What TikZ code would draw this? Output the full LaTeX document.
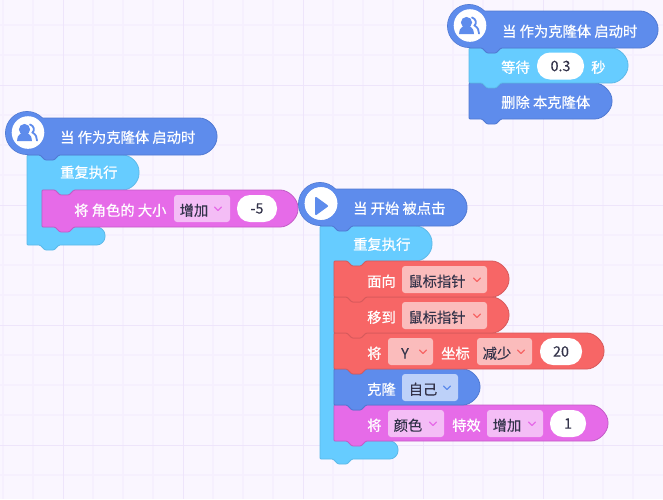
\documentclass[tikz,border=0pt]{standalone}
\usepackage{fontspec}
\setmainfont{Noto Sans CJK SC}
\newfontfamily\wfont[FakeBold=0.6]{Noto Sans CJK SC}
\newfontfamily\dfont[FakeBold=0.2]{Noto Sans CJK SC}
\definecolor{bgc}{HTML}{FAF6FF}
\definecolor{gridmin}{HTML}{F6F0FE}
\definecolor{gridmaj}{HTML}{EEE5FB}
\definecolor{hatblue}{HTML}{5E8CEC}
\definecolor{hatline}{HTML}{5079D2}
\definecolor{cyanb}{HTML}{66CCFF}
\definecolor{cyanl}{HTML}{5DB9E8}
\definecolor{pinkb}{HTML}{E66BE8}
\definecolor{pinkl}{HTML}{C25CC6}
\definecolor{redb}{HTML}{F76666}
\definecolor{redl}{HTML}{D65A5C}
\definecolor{redt}{HTML}{FBBCBC}
\definecolor{bluet}{HTML}{BDD1F9}
\definecolor{pinkt}{HTML}{F4BDF6}
\definecolor{darktext}{HTML}{33334A}
\tikzset{
  lab/.style={anchor=base west,inner sep=0pt,yshift=-0.7pt,text=white,font=\wfont\fontsize{14.3}{14.3}\selectfont},
  dtx/.style={anchor=base,inner sep=0pt,yshift=-0.7pt,text=darktext,font=\dfont\fontsize{14.3}{14.3}\selectfont},
  pillbox/.style={fill=white,rounded corners=13pt,inner sep=0pt,text=darktext,minimum height=27pt,font=\dfont\fontsize{14.3}{14.3}\selectfont},
  chev/.style={line width=1.3pt,line cap=round,line join=round},
  outl/.style={line width=0.8pt,rounded corners=1pt}
}
% stack block: fill,line,x,ytop,xright,height
\newcommand\blk[6]{%
  \draw[outl,fill=#1,draw=#2]
    (#3,#4) -- ({#3+13},#4) -- ({#3+18},{#4+5}) -- ({#3+27},{#4+5}) -- ({#3+32},#4)
    -- ({#5-#6/2},#4) .. controls ({#5-#6/4},#4) and (#5,{#4+#6/4}) .. (#5,{#4+#6/2})
    .. controls (#5,{#4+3*#6/4}) and ({#5-#6/4},{#4+#6}) .. ({#5-#6/2},{#4+#6})
    -- ({#3+32},{#4+#6}) -- ({#3+27},{#4+#6+5}) -- ({#3+18},{#4+#6+5}) -- ({#3+13},{#4+#6}) -- (#3,{#4+#6}) -- cycle;}
% loop: x,ytop,headright,headbottom,armx,foottop,footbottom,footright
\newcommand\loopblk[8]{%
  \draw[outl,fill=cyanb,draw=cyanl]
    (#1,#2) -- ({#3-17.5},#2) .. controls ({#3-8},#2) and (#3,{#2+8}) .. (#3,{#2+17.5})
    .. controls (#3,{#4-8}) and ({#3-8},#4) .. ({#3-17.5},#4)
    -- ({#5+32},#4) -- ({#5+27},{#4+5}) -- ({#5+18},{#4+5}) -- ({#5+13},#4) -- (#5,#4) -- (#5,#6)
    -- ({#8-9},#6) .. controls ({#8-4},#6) and (#8,{#6+4}) .. (#8,{#6+9})
    .. controls (#8,{#7-4}) and ({#8-4},#7) .. ({#8-9},#7)
    -- ({#1+32},#7) -- ({#1+27},{#7+5}) -- ({#1+18},{#7+5}) -- ({#1+13},#7) -- (#1,#7) -- cycle;}
% hat: x,ytop,xright
\newcommand\hatblk[3]{%
  \draw[line width=0.8pt,fill=hatblue,draw=hatline] (#1,{#2+15}) circle[radius=21.5];
  \draw[outl,fill=hatblue,draw=hatline]
    (#1,#2) -- ({#3-18.5},#2) .. controls ({#3-9},#2) and (#3,{#2+9}) .. (#3,{#2+18.5})
    .. controls (#3,{#2+28}) and ({#3-9},{#2+37}) .. ({#3-18.5},{#2+37})
    -- ({#1+32},{#2+37}) -- ({#1+27},{#2+42}) -- ({#1+18},{#2+42}) -- ({#1+13},{#2+37}) -- (#1,{#2+37}) -- cycle;
  \fill[hatblue] (#1,{#2+15}) circle[radius=21.1];
  \fill[white] ({#1+1},{#2+14.5}) circle[radius=16.3];}
\newcommand\usericon[2]{%
  \begin{scope}[shift={(#1,#2)}]
    \fill[hatblue] (-3.5,-3) circle[radius=5.6];
    \fill[hatblue] (-11,8.5) .. controls (-11,2) and (-7,0.5) .. (-3.5,0.5)
       .. controls (0,0.5) and (4,2) .. (4,8.5) -- cycle;
    \draw[hatblue,line width=1.8pt,line cap=round] (2,-8) .. controls (6,-7) and (7,-2) .. (4.5,0)
       .. controls (8,2) and (9,5) .. (9,8);
  \end{scope}}
% dropdown: x1,ytop,x2,tint,chevcolour,chevx
\newcommand\ddbox[6]{%
  \fill[#4,rounded corners=3pt] (#1,#2) rectangle (#3,{#2+27});
  \draw[chev,#5] ({#6-3.5},{#2+12}) -- (#6,{#2+15.5}) -- ({#6+3.5},{#2+12});}
\begin{document}
\begin{tikzpicture}[x=1pt,y=-1pt]
\useasboundingbox (0,0) rectangle (663,499);
\fill[bgc] (0,0) rectangle (663,499);
% grid
\foreach \gx in {3,33,93,123,153,213,243,273,333,363,393,453,483,513,573,603,633}
  \draw[gridmin,line width=1.2pt] (\gx,0) -- (\gx,499);
\foreach \gy in {25,55,115,145,175,235,265,295,355,385,415,475}
  \draw[gridmin,line width=1.2pt] (0,\gy) -- (663,\gy);
\foreach \gx in {63,183,303,423,543}
  \draw[gridmaj,line width=1pt] (\gx,0) -- (\gx,499);
\foreach \gy in {85,205,325,445}
  \draw[gridmaj,line width=1pt] (0,\gy) -- (663,\gy);

% ---- top right stack
\blk{hatblue}{hatline}{469}{83}{612}{36}
\blk{cyanb}{cyanl}{469}{48}{628}{35}
\hatblk{469}{11}{658}
\usericon{470}{25.5}
\node[lab] (tr1) at (502,36) {当 作为克隆体 启动时};
\node[lab] (tr2) at (501,72) {等待};
\node[pillbox,minimum width=47pt] (tr3) at (560.5,66) {0.3};
\node[lab] (tr4) at (591,72) {秒};
\node[lab] (tr5) at (501,107) {删除 本克隆体};

% ---- left stack
\loopblk{27}{155}{139}{190}{42}{227}{245}{105}
\blk{pinkb}{pinkl}{42}{190}{298}{37}
\hatblk{27}{118}{217}
\usericon{28}{132.5}
\node[lab] (l1) at (60,142) {当 作为克隆体 启动时};
\node[lab] (l2) at (60,177) {重复执行};
\node[lab] (l3) at (74,215) {将 角色的 大小};
\ddbox{174}{195}{230}{pinkt}{pinkb}{218}
\node[dtx] (l4) at (194,215) {增加};
\node[pillbox,minimum width=40pt] (l5) at (257,208.5) {-5};

% ---- right stack
\loopblk{320}{226}{432}{261}{334}{441}{459}{398}
\blk{pinkb}{pinkl}{334}{405}{608}{36}
\blk{hatblue}{hatline}{334}{369}{480}{36}
\blk{redb}{redl}{334}{333}{604}{36}
\blk{redb}{redl}{334}{297}{509}{36}
\blk{redb}{redl}{334}{261}{509}{36}
\hatblk{320}{189}{467}
\fill[white] (321,203.5) circle[radius=16.3];
\fill[hatblue,draw=hatblue,line width=2pt,line join=round] (316,198) -- (327,206) -- (316,214) -- cycle;
\node[lab] (r1) at (353,213) {当 开始 被点击};
\node[lab] (r2) at (353,249) {重复执行};
\node[lab] (r3) at (367,286) {面向};
\ddbox{402}{266}{487}{redt}{redb}{477}
\node[dtx] (r4) at (437,286) {鼠标指针};
\node[lab] (r5) at (367,322) {移到};
\ddbox{402}{302}{487}{redt}{redb}{477}
\node[dtx] (r6) at (437,322) {鼠标指针};
\node[lab] (r7) at (367,358) {将};
\ddbox{388}{338}{433}{redt}{redb}{423}
\node[dtx] (r8) at (405,358) {Y};
\node[lab] (r9) at (441,358) {坐标};
\ddbox{477}{338}{532}{redt}{redb}{521}
\node[dtx] (r10) at (497,358) {减少};
\node[pillbox,minimum width=42pt] (r11) at (561,351.5) {20};
\node[lab] (r12) at (367,394) {克隆};
\ddbox{402}{374}{458}{bluet}{hatblue}{447}
\node[dtx] (r13) at (423,394) {自己};
\node[lab] (r14) at (367,430) {将};
\ddbox{388}{410}{444}{pinkt}{pinkb}{433}
\node[dtx] (r15) at (408,430) {颜色};
\node[lab] (r16) at (452,430) {特效};
\ddbox{487}{410}{543}{pinkt}{pinkb}{532}
\node[dtx] (r17) at (507,430) {增加};
\node[pillbox,minimum width=36pt] (r18) at (568,423.5) {1};
\end{tikzpicture}
\end{document}
